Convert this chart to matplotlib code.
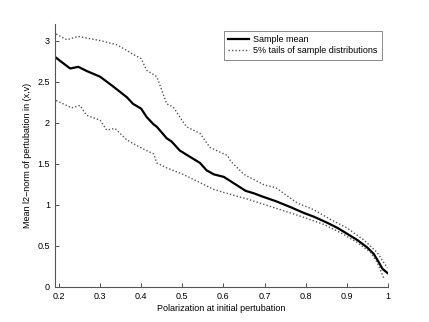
import matplotlib
matplotlib.use("Agg")
import matplotlib.pyplot as plt

mean_x = [0.193, 0.227, 0.247, 0.267, 0.30, 0.332, 0.365, 0.38, 0.40, 0.413, 0.43, 0.438,
          0.462, 0.474, 0.494, 0.52, 0.543, 0.559, 0.577, 0.601, 0.626, 0.654, 0.674, 0.695,
          0.727, 0.764, 0.796, 0.82, 0.853, 0.877, 0.90, 0.926, 0.95, 0.966, 0.978, 0.987, 0.999]
mean_y = [2.79, 2.66, 2.68, 2.63, 2.56, 2.44, 2.31, 2.23, 2.17, 2.07, 1.98, 1.95,
          1.81, 1.77, 1.66, 1.58, 1.51, 1.42, 1.37, 1.34, 1.26, 1.17, 1.14, 1.10,
          1.045, 0.97, 0.90, 0.855, 0.78, 0.72, 0.65, 0.57, 0.48, 0.40, 0.30, 0.22, 0.17]

upper_x = [0.193, 0.219, 0.247, 0.30, 0.34, 0.365, 0.381, 0.40, 0.413, 0.438, 0.462, 0.478,
           0.51, 0.543, 0.567, 0.579, 0.61, 0.618, 0.65, 0.70, 0.727, 0.78, 0.82, 0.861,
           0.90, 0.942, 0.974, 0.999]
upper_y = [3.08, 3.01, 3.05, 3.0, 2.95, 2.88, 2.83, 2.78, 2.64, 2.56, 2.23, 2.19,
           1.95, 1.87, 1.70, 1.67, 1.60, 1.53, 1.37, 1.24, 1.21, 1.02, 0.94, 0.82,
           0.72, 0.57, 0.42, 0.23]

lower_x = [0.193, 0.21, 0.231, 0.251, 0.267, 0.30, 0.316, 0.336, 0.365, 0.397, 0.43, 0.438,
           0.462, 0.502, 0.543, 0.575, 0.601, 0.658, 0.739, 0.788, 0.845, 0.885, 0.926,
           0.958, 0.974, 0.99]
lower_y = [2.27, 2.23, 2.18, 2.21, 2.09, 2.03, 1.91, 1.93, 1.79, 1.70, 1.62, 1.51,
           1.45, 1.37, 1.27, 1.19, 1.15, 1.07, 0.94, 0.86, 0.76, 0.66, 0.54,
           0.42, 0.30, 0.11]

x_ticks = [0.2, 0.3, 0.4, 0.5, 0.6, 0.7, 0.8, 0.9, 1.0]
x_ticklabels = ["0.2", "0.3", "0.4", "0.5", "0.6", "0.7", "0.8", "0.9", "1"]
y_ticks = [0, 0.5, 1, 1.5, 2, 2.5, 3]
y_ticklabels = ["0", "0.5", "1", "1.5", "2", "2.5", "3"]

plt.rcParams['font.family'] = ['Liberation Sans', 'DejaVu Sans']

fig = plt.figure(figsize=(4.29, 3.22), dpi=100)
ax = fig.add_axes([0.128, 0.109, 0.776, 0.816])

ax.plot(mean_x, mean_y, color='black', lw=1.6, label='Sample mean')
ax.plot(upper_x, upper_y, color='#555555', lw=1.0, ls=(0, (1, 1.5)),
        label='5% tails of sample distributions')
ax.plot(lower_x, lower_y, color='#555555', lw=1.0, ls=(0, (1, 1.5)))

ax.set_xlim(0.19, 1.0)
ax.set_ylim(0, 3.2)
ax.set_xticks(x_ticks)
ax.set_xticklabels(x_ticklabels)
ax.set_yticks(y_ticks)
ax.set_yticklabels(y_ticklabels)
ax.tick_params(direction='in', length=3, width=0.6, labelsize=6.5, colors='#333333',
               labelcolor='black')
for s in ['top', 'right']:
    ax.spines[s].set_visible(False)
for s in ['left', 'bottom']:
    ax.spines[s].set_color('#555555')
    ax.spines[s].set_linewidth(0.8)

ax.set_xlabel('Polarization at initial pertubation', fontsize=6.5, labelpad=2)
ax.set_ylabel('Mean l2\u2212norm of pertubation in (x,v)', fontsize=6.5, labelpad=4)

leg = ax.legend(loc='upper right', bbox_to_anchor=(0.982, 0.975), fontsize=6.5,
                frameon=True, fancybox=False, edgecolor='#555555', handlelength=2.3,
                borderpad=0.45, labelspacing=0.3, handletextpad=0.5, borderaxespad=0)
leg.get_frame().set_linewidth(0.6)

fig.savefig('out.png', dpi=100)
